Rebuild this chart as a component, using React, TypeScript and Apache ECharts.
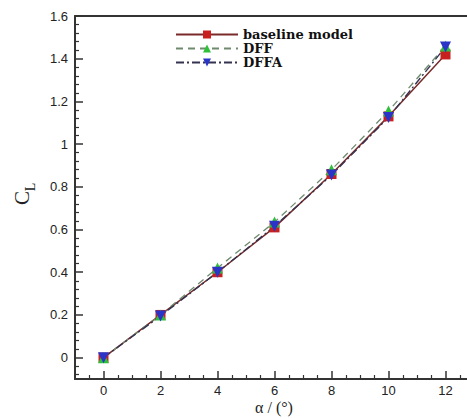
import React, { useEffect, useRef } from "react";
import * as echarts from "echarts";

const alpha = [0, 2, 4, 6, 8, 10, 12];
const baseline = [0, 0.2, 0.4, 0.61, 0.86, 1.13, 1.42];
const dff = [0, 0.2, 0.42, 0.635, 0.88, 1.155, 1.46];
const dffa = [0, 0.195, 0.4, 0.615, 0.855, 1.125, 1.455];

const xTicks = [0, 2, 4, 6, 8, 10, 12];
const yTicks = [0, 0.2, 0.4, 0.6, 0.8, 1, 1.2, 1.4, 1.6];

const xMinor: number[] = [];
for (let k = -2; k <= 26; k++) {
  const v = Math.round(k * 0.5 * 100) / 100;
  if (!xTicks.includes(v) && v > -1 && v < 13) xMinor.push(v);
}
const yMinor: number[] = [];
for (let k = -2; k <= 40; k++) {
  const v = Math.round(k * 0.04 * 100) / 100;
  if (!yTicks.some((t) => Math.abs(t - v) < 1e-6) && v > -0.1 && v < 1.6) yMinor.push(v);
}

const pair = (ys: number[]) => alpha.map((a, i) => [a, ys[i]]);

export default function App() {
  const ref = useRef<HTMLDivElement>(null);
  useEffect(() => {
    const chart = echarts.init(ref.current!, null, { renderer: "svg" });
    const axisColor = "#333";
    const labelStyle = {
      color: "#222",
      fontFamily: "Liberation Sans, Arial, sans-serif",
      fontSize: 13,
    };
    chart.setOption({
      animation: false,
      backgroundColor: "#fff",
      grid: {
        left: 75,
        top: 16,
        bottom: 39,
        width: 399,
        outerBoundsMode: "none",
        containLabel: false,
        show: false,
      },
      legend: {
        orient: "vertical",
        left: 170,
        top: 23,
        itemWidth: 62,
        itemHeight: 10,
        itemGap: 1,
        textStyle: {
          fontFamily: "DejaVu Serif, serif",
          fontWeight: "bold",
          fontSize: 13,
          color: "#111",
        },
        data: ["baseline model", "DFF", "DFFA"],
      },
      xAxis: [
        {
          type: "value",
          min: -1,
          max: 13,
          axisLine: { show: true, onZero: false, lineStyle: { color: axisColor, width: 2 } },
          axisTick: { show: true, inside: true, length: 8, customValues: xTicks, lineStyle: { color: axisColor, width: 1.5 } },
          axisLabel: { ...labelStyle, customValues: xTicks, margin: 5 },
          splitLine: { show: false },
        },
        {
          type: "value",
          min: -1,
          max: 13,
          position: "bottom",
          axisLine: { show: false, onZero: false },
          axisTick: { show: true, inside: true, length: 4, customValues: xMinor, lineStyle: { color: axisColor, width: 1.2 } },
          axisLabel: { show: false },
          splitLine: { show: false },
        },
        {
          type: "value",
          min: -1,
          max: 13,
          position: "top",
          axisLine: { show: true, onZero: false, lineStyle: { color: axisColor, width: 2 } },
          axisTick: { show: false },
          axisLabel: { show: false },
          splitLine: { show: false },
        },
      ],
      yAxis: [
        {
          type: "value",
          min: -0.1,
          max: 1.6,
          axisLine: { show: true, onZero: false, lineStyle: { color: axisColor, width: 2 } },
          axisTick: { show: true, inside: true, length: 8, customValues: yTicks, lineStyle: { color: axisColor, width: 1.5 } },
          axisLabel: { ...labelStyle, customValues: yTicks, margin: 7 },
          splitLine: { show: false },
        },
        {
          type: "value",
          min: -0.1,
          max: 1.6,
          position: "left",
          axisLine: { show: false, onZero: false },
          axisTick: { show: true, inside: true, length: 4, customValues: yMinor, lineStyle: { color: axisColor, width: 1.2 } },
          axisLabel: { show: false },
          splitLine: { show: false },
        },
      ],
      series: [
        {
          name: "baseline model",
          type: "line",
          data: pair(baseline),
          symbol: "rect",
          symbolSize: 10,
          lineStyle: { color: "#7a2a2a", width: 1.5 },
          itemStyle: { color: "#c8201f" },
        },
        {
          name: "DFF",
          type: "line",
          data: pair(dff),
          symbol: "triangle",
          symbolSize: 11,
          lineStyle: { color: "#6f8a6f", width: 1.3, type: [7, 5] },
          itemStyle: { color: "#2fc03a" },
        },
        {
          name: "DFFA",
          type: "line",
          data: pair(dffa),
          symbol: "triangle",
          symbolRotate: 180,
          symbolSize: 11,
          lineStyle: { color: "#333350", width: 1.4, type: [8, 3, 2, 3] },
          itemStyle: { color: "#2a35c8" },
        },
      ],
      graphic: [
        {
          type: "text",
          x: 22,
          y: 198,
          rotation: Math.PI / 2,
          style: {
            text: "C",
            fontFamily: "Liberation Serif, Times New Roman, serif",
            fontSize: 21,
            fill: "#222",
            align: "center",
            verticalAlign: "middle",
          },
        },
        {
          type: "text",
          x: 30,
          y: 187,
          rotation: Math.PI / 2,
          style: {
            text: "L",
            fontFamily: "Liberation Serif, Times New Roman, serif",
            fontSize: 14,
            fill: "#222",
            align: "center",
            verticalAlign: "middle",
          },
        },
        {
          type: "text",
          x: 274,
          y: 407,
          style: {
            text: "α / (°)",
            fontFamily: "Liberation Serif, Times New Roman, serif",
            fontSize: 16,
            fill: "#222",
            align: "center",
            verticalAlign: "middle",
          },
        },
      ],
    });
    return () => chart.dispose();
  }, []);
  return (
    <div style={{ position: "fixed", left: 0, top: 0, width: 467, height: 418, overflow: "hidden" }}>
      <div ref={ref} style={{ width: 467, height: 418 }} />
    </div>
  );
}
